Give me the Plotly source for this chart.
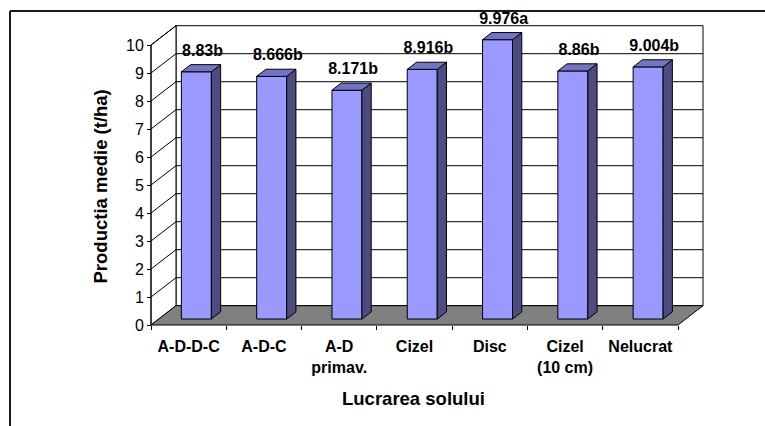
import plotly.graph_objects as go

# Soil tillage treatments and mean yield (t/ha) with significance letters
categories = ["A-D-D-C", "A-D-C", "A-D<br>primav.", "Cizel", "Disc", "Cizel<br>(10 cm)", "Nelucrat"]
yields = [8.83, 8.666, 8.171, 8.916, 9.976, 8.86, 9.004]
letters = ["b", "b", "b", "b", "a", "b", "b"]
y_ticks = list(range(0, 11))

# Canvas and pixel calibration of the front plane of the 3-D box
W, H = 765, 426
PX_LEFT, PX_RIGHT = 151, 678
PY_ZERO, PY_PER_UNIT = 325, 28
n = len(categories)
px_per_cat = (PX_RIGHT - PX_LEFT) / n

x_lo = -0.5 - PX_LEFT / px_per_cat
x_hi = x_lo + W / px_per_cat
y_hi = PY_ZERO / PY_PER_UNIT
y_lo = y_hi - H / PY_PER_UNIT

# Oblique depth of the box (in data units) and bar geometry
DX = 25 / px_per_cat
DY = 19.3 / PY_PER_UNIT
F = 0.31          # depth fraction where bar fronts sit
B = 0.37          # bar depth as a fraction of the box depth
BW = 30 / px_per_cat
ymax = y_ticks[-1]

FRONT = "#9999FF"
TOP = "#7474C4"
SIDE = "#4C4C80"
FLOOR = "#808080"
FONT = "Liberation Sans, Arial, sans-serif"

shapes = []
xl_box, xr_box = -0.5, n - 0.5
# back wall
shapes.append(dict(type="rect", xref="x", yref="y", layer="below",
                   x0=xl_box + DX, x1=xr_box + DX, y0=DY, y1=ymax + DY,
                   fillcolor="white", line=dict(color="black", width=1)))
# left wall
shapes.append(dict(type="path", xref="x", yref="y", layer="below",
                   path=f"M{xl_box},0 L{xl_box + DX},{DY} L{xl_box + DX},{ymax + DY} L{xl_box},{ymax} Z",
                   fillcolor="white", line=dict(color="black", width=1)))
# gridlines on the back and left walls
for k in y_ticks[1:-1]:
    shapes.append(dict(type="line", xref="x", yref="y", layer="below",
                       x0=xl_box + DX, x1=xr_box + DX, y0=k + DY, y1=k + DY,
                       line=dict(color="black", width=1)))
for k in y_ticks[1:]:
    shapes.append(dict(type="line", xref="x", yref="y", layer="below",
                       x0=xl_box, x1=xl_box + DX, y0=k, y1=k + DY,
                       line=dict(color="black", width=1)))
# floor
shapes.append(dict(type="path", xref="x", yref="y", layer="below",
                   path=f"M{xl_box},0 L{xr_box},0 L{xr_box + DX},{DY} L{xl_box + DX},{DY} Z",
                   fillcolor=FLOOR, line=dict(color="black", width=1)))
# value axis line
shapes.append(dict(type="line", xref="x", yref="y", layer="below",
                   x0=xl_box, x1=xl_box, y0=0, y1=ymax,
                   line=dict(color="black", width=1)))
# outer chart-area border
shapes.append(dict(type="line", xref="paper", yref="paper",
                   x0=10 / W, x1=1.0, y0=1 - 11 / H, y1=1 - 11 / H,
                   line=dict(color="#1a1a1a", width=2)))
shapes.append(dict(type="line", xref="paper", yref="paper",
                   x0=10 / W, x1=10 / W, y0=0, y1=1 - 11 / H,
                   line=dict(color="#1a1a1a", width=2)))

# side and top faces of the bars
side_x, side_y, top_x, top_y = [], [], [], []
front_x = []
lab_x, lab_y, lab_t = [], [], []
for i, v in enumerate(yields):
    cx = i + F * DX
    xl, xr = cx - BW / 2, cx + BW / 2
    y0, y1 = F * DY, v + F * DY
    bdx, bdy = B * DX, B * DY
    side_x += [xr, xr + bdx, xr + bdx, xr, xr, None]
    side_y += [y0, y0 + bdy, y1 + bdy, y1, y0, None]
    top_x += [xl, xr, xr + bdx, xl + bdx, xl, None]
    top_y += [y1, y1, y1 + bdy, y1 + bdy, y1, None]
    front_x.append(cx)
    lab_x.append(cx + bdx / 2 + 0.02)
    lab_y.append(y1 + 20 / PY_PER_UNIT)
    lab_t.append(f"{v:g}{letters[i]}")

fig = go.Figure()
fig.add_trace(go.Bar(x=front_x, y=yields, base=F * DY, width=BW,
                     marker=dict(color=FRONT, line=dict(color="black", width=1)),
                     hoverinfo="skip"))
fig.add_trace(go.Scatter(x=side_x, y=side_y, mode="lines", fill="toself",
                         fillcolor=SIDE, line=dict(color="black", width=1),
                         hoverinfo="skip"))
fig.add_trace(go.Scatter(x=top_x, y=top_y, mode="lines", fill="toself",
                         fillcolor=TOP, line=dict(color="black", width=1),
                         hoverinfo="skip"))
fig.add_trace(go.Scatter(x=lab_x, y=lab_y, mode="text", text=lab_t,
                         textposition="middle center",
                         textfont=dict(family=FONT, size=16, color="black", weight="bold"),
                         hoverinfo="skip", cliponaxis=False))

fig.update_layout(
    width=W, height=H, margin=dict(l=0, r=0, t=0, b=0),
    paper_bgcolor="white", plot_bgcolor="white",
    showlegend=False, shapes=shapes,
    xaxis=dict(range=[x_lo, x_hi], domain=[0, 1], anchor="free",
               position=(H - PY_ZERO) / H,
               tickmode="array", tickvals=list(range(n)), ticktext=categories,
               ticks="", showgrid=False, zeroline=False, showline=False,
               tickfont=dict(family=FONT, size=16, color="black", weight="bold"),
               ticklabelstandoff=10,
               minor=dict(tickmode="array", tickvals=[i - 0.5 for i in range(n + 1)],
                          ticks="outside", ticklen=4, tickcolor="black", tickwidth=1,
                          showgrid=False)),
    yaxis=dict(range=[y_lo, y_hi], domain=[0, 1], anchor="free",
               position=PX_LEFT / W,
               tickmode="array", tickvals=y_ticks,
               ticks="outside", ticklen=4, tickcolor="black",
               showgrid=False, zeroline=False, showline=False,
               tickfont=dict(family=FONT, size=16, color="black")),
    annotations=[
        dict(text="<b>Productia medie (t/ha)</b>", xref="paper", yref="paper",
             x=100 / W, y=1 - 186.5 / H, xanchor="center", yanchor="middle",
             showarrow=False, textangle=-90,
             font=dict(family=FONT, size=18.5, color="black")),
        dict(text="<b>Lucrarea solului</b>", xref="paper", yref="paper",
             x=413 / W, y=1 - 398 / H, xanchor="center", yanchor="middle",
             showarrow=False,
             font=dict(family=FONT, size=18.5, color="black")),
    ],
)

fig.write_html("out.html")
